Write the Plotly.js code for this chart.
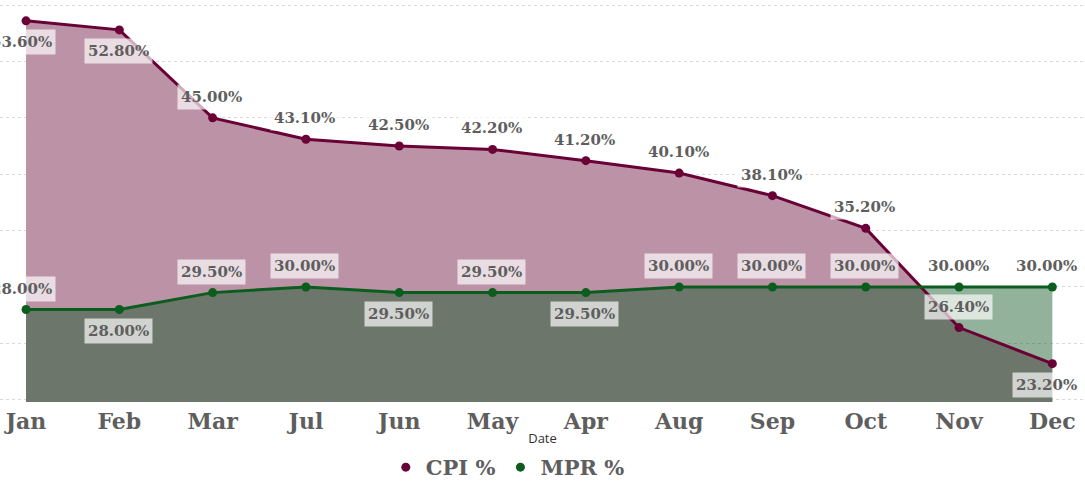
<!DOCTYPE html>
<html><head><meta charset="utf-8">
<script src="https://cdn.plot.ly/plotly-3.0.1.min.js"></script>
<style>html,body{margin:0;padding:0;background:#fff}#chart{width:1085px;height:482px}</style>
</head><body><div id="chart"></div>
<script>
const months = ["Jan","Feb","Mar","Jul","Jun","May","Apr","Aug","Sep","Oct","Nov","Dec"];
const cpi = [53.60,52.80,45.00,43.10,42.50,42.20,41.20,40.10,38.10,35.20,26.40,23.20];
const mpr = [28.00,28.00,29.50,30.00,29.50,29.50,29.50,30.00,30.00,30.00,30.00,30.00];
const cpiLabelSide = [-1,-1,1,1,1,1,1,1,1,1,1,-1];
const mprLabelSide = [1,-1,1,1,-1,1,-1,1,1,1,1,1];

const cpiLine = '#6a0136', mprLine = '#0b5d1e';
const serif = '"DejaVu Serif", serif';

const traces = [
  {x: months, y: cpi, type:'scatter', mode:'none', fill:'tozeroy', fillcolor:'rgb(188,146,166)', showlegend:false, hoverinfo:'skip'},
  {x: months, y: mpr, type:'scatter', mode:'none', fill:'tozeroy', fillcolor:'rgba(14,85,34,0.45)', showlegend:false, hoverinfo:'skip'},
  {x: months, y: cpi, type:'scatter', mode:'lines', line:{color:cpiLine, width:3}, showlegend:false},
  {x: months, y: mpr, type:'scatter', mode:'lines', line:{color:mprLine, width:3}, showlegend:false},
  {x: months, y: cpi, type:'scatter', mode:'markers', name:'CPI %', marker:{color:cpiLine, size:9}},
  {x: months, y: mpr, type:'scatter', mode:'markers', name:'MPR %', marker:{color:mprLine, size:9}}
];

const annotations = [];
const mk = (vals, sides) => vals.forEach((v,i) => annotations.push({
  x: months[i], y: v, xref:'x', yref:'y', text: v.toFixed(2)+'%', showarrow:false,
  yshift: 21*sides[i], xshift: i===0 ? -5 : (i===months.length-1 ? -6 : -1),
  bgcolor:'rgba(255,255,255,0.68)', borderpad:3,
  font:{family:serif, size:15, color:'#5e5e5e', weight:'bold'}
}));
mk(cpi, cpiLabelSide);
mk(mpr, mprLabelSide);

const layout = {
  width:1085, height:482,
  margin:{l:0, r:0, t:0, b:80, autoexpand:false},
  paper_bgcolor:'#fff', plot_bgcolor:'#fff',
  showlegend:true,
  legend:{orientation:'h', x:0.468, xanchor:'center', yref:'container', y:0.03, yanchor:'middle',
    font:{family:serif, size:21, color:'#5e5e5e', weight:'bold'}, itemwidth:30},
  xaxis:{type:'category', range:[-0.279, 11.35], automargin:false, showgrid:false, zeroline:false,
    showline:false, ticks:'', ticklen:0, ticklabelstandoff:4,
    tickfont:{family:serif, size:22, color:'#5e5e5e', weight:'bold'},
    title:{text:'Date', font:{family:'"Open Sans", sans-serif', size:13, color:'#333'}, standoff:14}},
  yaxis:{range:[19.8, 55.45], automargin:false, showticklabels:false, zeroline:false, showline:false,
    dtick:5, tick0:0, showgrid:true, gridcolor:'#d9d9d9', griddash:'dot', gridwidth:1},
  annotations: annotations
};
Plotly.newPlot('chart', traces, layout, {displayModeBar:false, staticPlot:true});
</script></body></html>
